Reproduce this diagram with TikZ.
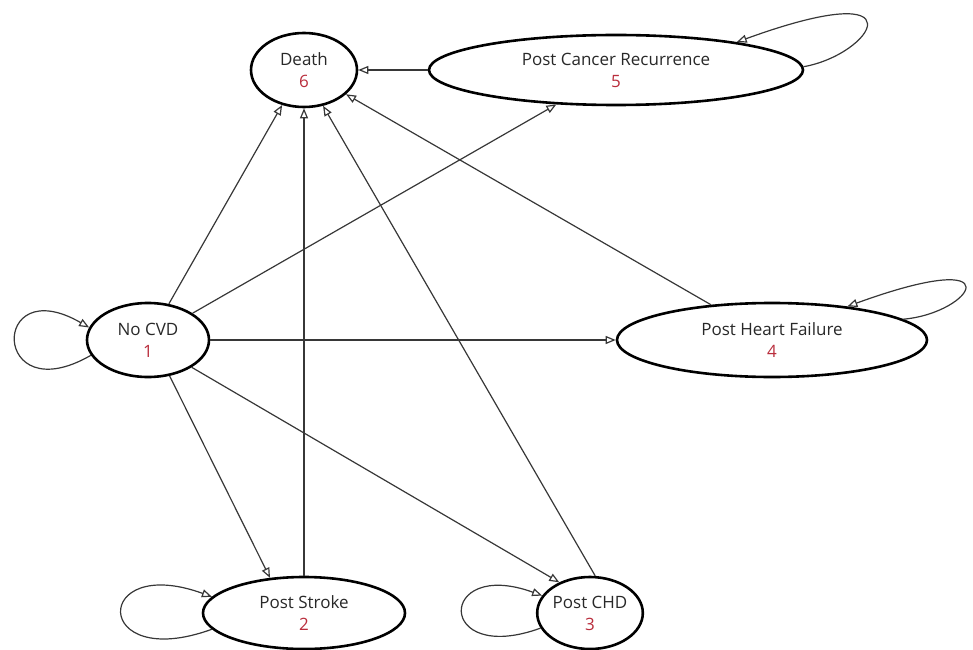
\documentclass[tikz,border=0pt]{standalone}
\usepackage{fontspec}
\setmainfont{Open Sans}
\usepackage{xcolor}
\usepackage{tikz}
\usetikzlibrary{positioning, shapes.geometric}
\usetikzlibrary{arrows.meta}
\definecolor{numred}{RGB}{185,45,60}
\definecolor{txtgray}{RGB}{40,40,40}
\definecolor{linegray}{RGB}{55,55,55}

\begin{document}
\begin{tikzpicture}[x=1pt, y=1pt, on grid, state/.style ={ellipse, draw, line width=2.6pt, inner sep=0pt, minimum height=72pt, align=center, text=txtgray, font=\fontsize{17}{22}\selectfont}, every edge/.style={draw=linegray, line width=1.2pt, -{Triangle[open, length=10pt, width=8pt]}}]
\useasboundingbox (0,0) rectangle (973,649);
\node[state, minimum width=122pt, minimum height=74pt] (nocvd) at (148,309) {No CVD\\\textcolor{numred}{1}};
\node[state, minimum width=106pt, minimum height=74pt] (death) [above right = 270pt and 156pt of nocvd] {Death\\\textcolor{numred}{6}};
\node[state, minimum width=374pt, minimum height=70pt] (pcr) [right = 312pt of death] {Post Cancer Recurrence\\\textcolor{numred}{5}};
\node[state, minimum width=310pt, minimum height=74pt] (phf) [right = 624pt of nocvd] {Post Heart Failure\\\textcolor{numred}{4}};
\node[state, minimum width=202pt] (stroke) [below = 543pt of death] {Post Stroke\\\textcolor{numred}{2}};
\node[state, minimum width=104pt] (chd) [right = 286pt of stroke] {Post CHD\\\textcolor{numred}{3}};
\path (pcr) edge (death)
(nocvd.60) edge (death.238)
(stroke) edge (death)
(chd.82) edge (death.-62)
(phf.150) edge (death.-30)
(nocvd.31) edge (pcr.210)
(nocvd) edge (phf)
(nocvd.-59) edge (stroke.134)
(nocvd.-32) edge (chd.135);
\path (nocvd.195) edge[out=210, in=150, distance=115pt] (nocvd.168)
(stroke.190) edge[out=200, in=160, distance=128pt] (stroke.170)
(chd.197) edge[out=200, in=160, distance=112pt] (chd.160)
(phf.9) edge[out=5, in=20, out distance=70pt, in distance=180pt] (phf.24)
(pcr.1) edge[out=10, in=20, out distance=70pt, in distance=200pt] (pcr.13);
\end{tikzpicture}
\end{document}
